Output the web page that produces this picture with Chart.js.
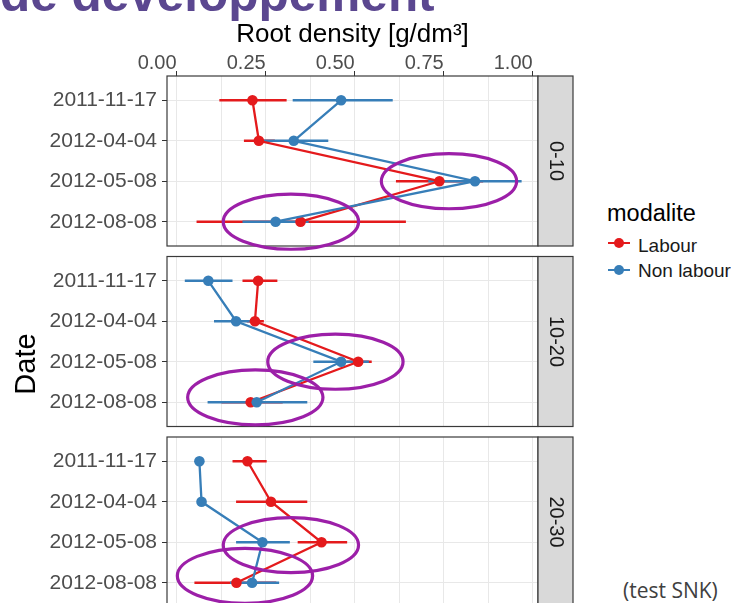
<!DOCTYPE html>
<html>
<head>
<meta charset="utf-8">
<script src="https://cdn.jsdelivr.net/npm/chart.js@4.4.1/dist/chart.umd.min.js"></script>
<style>
  html, body { margin: 0; padding: 0; background: #fff; overflow: hidden; }
  #page { position: relative; width: 731px; height: 603px; overflow: hidden;
          font-family: "Liberation Sans", Arial, sans-serif; }
  #page canvas { position: absolute; left: 0; }
  .txt { position: absolute; white-space: nowrap; line-height: 1; }
  #heading { left: 0; top: -31px; font-size: 49.5px; font-weight: bold; color: #5b4790; }
  #ytitle { left: -25.5px; top: 344px; width: 100px; height: 40px; line-height: 40px;
            text-align: center; font-size: 29px; color: #000; transform: rotate(-90deg); }
  #legtitle { left: 607px; top: 202px; font-size: 23.5px; color: #000; }
  .legtext { font-size: 19px; color: #1a1a1a; left: 638px; }
  .keyline { position: absolute; left: 608px; width: 22px; height: 2.4px; }
  .keydot { position: absolute; left: 614px; width: 10px; height: 10px; border-radius: 50%; }
  #note { left: 623px; top: 580px; font-family: "Open Sans", sans-serif; font-size: 21px; color: #404040; }
</style>
</head>
<body>
<div id="page">
  <div class="txt" id="heading">de développement</div>
  <canvas id="panel0" width="580" height="252" style="top:0px"></canvas>
  <canvas id="panel1" width="580" height="182" style="top:250px"></canvas>
  <canvas id="panel2" width="580" height="183" style="top:430px"></canvas>
  <div class="txt" id="ytitle">Date</div>
  <div class="txt" id="legtitle">modalite</div>
  <div class="keyline" style="top:241.8px;background:#e41a1c"></div>
  <div class="keydot" style="top:238px;background:#e41a1c"></div>
  <div class="txt legtext" style="top:236px">Labour</div>
  <div class="keyline" style="top:268.8px;background:#377eb8"></div>
  <div class="keydot" style="top:265px;background:#377eb8"></div>
  <div class="txt legtext" style="top:261px">Non labour</div>
  <div class="txt" id="note">(test SNK)</div>
</div>
<script>
// ------------------
// data
// ------------------
const dates = ["2011-11-17", "2012-04-04", "2012-05-08", "2012-08-08"];
const depths = ["0-10", "10-20", "20-30"];
const xTickLabels = [0, 0.25, 0.5, 0.75, 1];
const xGrid = [0, 0.125, 0.25, 0.375, 0.5, 0.625, 0.75, 0.875, 1];

// one row per depth, one column per date
const labourMean = [[0.213, 0.231, 0.738, 0.348], [0.229, 0.220, 0.510, 0.208], [0.199, 0.265, 0.407, 0.168]];
const labourLow  = [[0.120, 0.189, 0.616, 0.056], [0.185, 0.197, 0.477, 0.126], [0.157, 0.167, 0.340, 0.050]];
const labourHigh = [[0.309, 0.276, 0.861, 0.644], [0.283, 0.245, 0.548, 0.298], [0.253, 0.367, 0.479, 0.280]];

const nonLabourMean = [[0.462, 0.329, 0.838, 0.278], [0.089, 0.167, 0.462, 0.225], [0.064, 0.070, 0.241, 0.212]];
const nonLabourLow  = [[0.326, 0.243, 0.707, 0.185], [0.023, 0.105, 0.384, 0.087], [0.060, 0.066, 0.167, 0.150]];
const nonLabourHigh = [[0.607, 0.426, 0.969, 0.371], [0.157, 0.226, 0.540, 0.367], [0.068, 0.074, 0.318, 0.288]];

// circled points per depth: [root density, date position]
const circled = [
  [[0.765, 2], [0.321, 3]],
  [[0.446, 2], [0.221, 2.88]],
  [[0.321, 2.07], [0.192, 2.83]]
];

// ------------------
// look
// ------------------
const RED = "#e41a1c";
const BLUE = "#377eb8";
const X_MIN = -0.027, X_MAX = 1.015;
const STRIP_W = 35;
const PANEL_PAD = [{ top: 0, bottom: 6 }, { top: 6.5, bottom: 5.5 }, { top: 7, bottom: 6 }];

function buildDatasets(p) {
  const series = [
    { name: "Labour", color: RED, mean: labourMean[p], lo: labourLow[p], hi: labourHigh[p], order: 2 },
    { name: "Non labour", color: BLUE, mean: nonLabourMean[p], lo: nonLabourLow[p], hi: nonLabourHigh[p], order: 1 }
  ];
  const sets = [];
  series.forEach(s => {
    sets.push({
      label: s.name,
      data: s.mean.map((v, i) => ({ x: v, y: i })),
      showLine: true,
      borderColor: s.color,
      backgroundColor: s.color,
      borderWidth: 2.3,
      pointRadius: 5.3,
      pointBorderWidth: 0,
      order: s.order
    });
    // horizontal interval bars
    s.mean.forEach((v, i) => {
      sets.push({
        label: s.name + " interval",
        data: [{ x: s.lo[i], y: i }, { x: s.hi[i], y: i }],
        showLine: true,
        borderColor: s.color,
        borderWidth: 2.5,
        pointRadius: 0,
        order: s.order + 2
      });
    });
  });
  return sets;
}

// panel border, strip on the right and the circled points
function facetPlugin(p) {
  return {
    id: "facet" + p,
    afterDatasetsDraw(chart) {
      const { ctx, chartArea: a, scales } = chart;
      const h = a.bottom - a.top;
      ctx.save();
      ctx.strokeStyle = "#3a3a3a";
      ctx.lineWidth = 1.2;
      ctx.strokeRect(a.left, a.top, a.right - a.left, h);
      ctx.fillStyle = "#d9d9d9";
      ctx.fillRect(a.right, a.top, STRIP_W, h);
      ctx.strokeRect(a.right, a.top, STRIP_W, h);
      ctx.translate(a.right + STRIP_W / 2, a.top + h / 2);
      ctx.rotate(Math.PI / 2);
      ctx.fillStyle = "#1a1a1a";
      ctx.font = '20px "Liberation Sans", Arial, sans-serif';
      ctx.textAlign = "center";
      ctx.textBaseline = "middle";
      ctx.fillText(depths[p], 0, 0);
      ctx.restore();

      ctx.save();
      ctx.strokeStyle = "#9c1fa8";
      ctx.lineWidth = 3.2;
      circled[p].forEach(([vx, vy]) => {
        const cx = scales.x.getPixelForValue(vx);
        const cy = scales.y.getPixelForValue(vy);
        const rx = Math.abs(scales.x.getPixelForValue(vx + 0.19) - cx);
        const ry = Math.abs(scales.y.getPixelForValue(vy + 0.68) - cy);
        ctx.beginPath();
        ctx.ellipse(cx, cy, rx, ry, 0, 0, Math.PI * 2);
        ctx.stroke();
      });
      ctx.restore();
    }
  };
}

function makePanel(p) {
  const first = p === 0;
  return new Chart(document.getElementById("panel" + p), {
    type: "scatter",
    data: { datasets: buildDatasets(p) },
    options: {
      responsive: false,
      animation: false,
      events: [],
      devicePixelRatio: 1,
      layout: { padding: { left: 0, right: 42, top: PANEL_PAD[p].top, bottom: PANEL_PAD[p].bottom } },
      plugins: { legend: { display: false }, tooltip: { enabled: false } },
      scales: {
        x: {
          type: "linear",
          position: "top",
          min: X_MIN,
          max: X_MAX,
          afterBuildTicks: s => { s.ticks = xGrid.map(v => ({ value: v })); },
          afterFit: s => { s.height = first ? 76 : 0; s.paddingLeft = 0; s.paddingRight = 0; },
          border: { display: false },
          grid: {
            color: "#e8e8e8",
            lineWidth: 1,
            drawTicks: first,
            tickLength: 5,
            tickColor: c => (c.tick && xTickLabels.includes(c.tick.value)) ? "#333333" : "rgba(0,0,0,0)"
          },
          ticks: {
            display: first,
            autoSkip: false,
            maxRotation: 0,
            align: "end",
            padding: 1,
            color: "#4d4d4d",
            font: { size: 20, lineHeight: 0.7 },
            callback: v => xTickLabels.includes(v) ? v.toFixed(2) : ""
          },
          title: {
            display: first,
            text: "Root density [g/dm³]",
            color: "#000000",
            font: { size: 26, lineHeight: 1.2 },
            padding: { top: 19.5, bottom: 0 }
          }
        },
        y: {
          type: "linear",
          reverse: true,
          min: -0.6,
          max: 3.6,
          afterBuildTicks: s => { s.ticks = dates.map((d, i) => ({ value: i })); },
          afterFit: s => { s.width = 167; s.paddingTop = 0; s.paddingBottom = 0; },
          border: { display: false },
          grid: { color: "#e8e8e8", lineWidth: 1, tickLength: 5, tickColor: "#333333" },
          ticks: {
            autoSkip: false,
            padding: 5,
            color: "#4d4d4d",
            font: { size: 21 },
            callback: v => dates[v]
          }
        }
      }
    },
    plugins: [facetPlugin(p)]
  });
}

window.onload = () => {
  depths.forEach((d, p) => makePanel(p));
};
</script>
</body>
</html>
